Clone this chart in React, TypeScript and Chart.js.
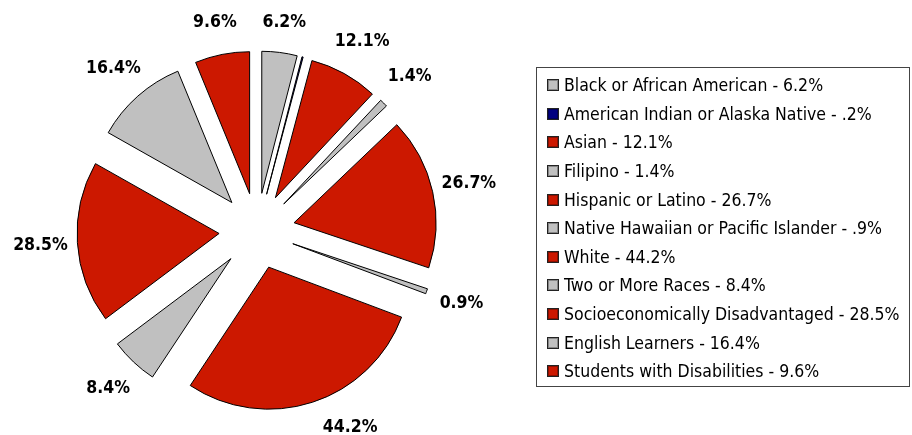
import React, { useEffect, useRef } from "react";
import { Chart, registerables } from "chart.js";

Chart.register(...registerables);

// ---- data ----
const categories: string[] = [
  "Black or African American",
  "American Indian or Alaska Native",
  "Asian",
  "Filipino",
  "Hispanic or Latino",
  "Native Hawaiian or Pacific Islander",
  "White",
  "Two or More Races",
  "Socioeconomically Disadvantaged",
  "English Learners",
  "Students with Disabilities",
];
const percents: number[] = [6.2, 0.2, 12.1, 1.4, 26.7, 0.9, 44.2, 8.4, 28.5, 16.4, 9.6];

// ---- styles ----
const GRAY = "#C0C0C0";
const RED = "#CC1800";
const NAVY = "#000080";
const sliceColors: string[] = [GRAY, NAVY, RED, GRAY, RED, GRAY, RED, GRAY, RED, GRAY, RED];

const EXPLODE = 38;
const RADIUS = 142;
const LABEL_GAP = 37;
const LABEL_MARGIN_TOP = 22;
const LABEL_MARGIN_BOTTOM = 8;
const MIN_LABEL_VALUE = 0.5;
const LABEL_FONT = 'bold 17.5px "DejaVu Sans Condensed", "DejaVu Sans", sans-serif';
const LEGEND_FONT = '17.5px "DejaVu Sans Condensed", "DejaVu Sans", sans-serif';

const sliceLabel = (v: number) => v.toFixed(1) + "%";
const legendValue = (v: number) => (v < 1 ? v.toFixed(1).replace(/^0/, "") : v.toFixed(1)) + "%";

const explodePlugin = {
  id: "explodedPie",
  beforeDatasetDraw(chart: any, args: any) {
    const ctx = chart.ctx;
    const meta = args.meta;
    meta.data.forEach((arc: any) => {
      const mid = (arc.startAngle + arc.endAngle) / 2;
      ctx.save();
      ctx.translate(Math.cos(mid) * EXPLODE, Math.sin(mid) * EXPLODE);
      arc.draw(ctx, chart.chartArea);
      ctx.restore();
    });
    return false;
  },
  afterDatasetsDraw(chart: any) {
    const ctx = chart.ctx;
    const meta = chart.getDatasetMeta(0);
    const values = chart.data.datasets[0].data as number[];
    const maxY = chart.height - LABEL_MARGIN_BOTTOM;
    ctx.save();
    ctx.font = LABEL_FONT;
    ctx.fillStyle = "#000";
    ctx.textAlign = "center";
    ctx.textBaseline = "middle";
    meta.data.forEach((arc: any, i: number) => {
      const v = values[i];
      if (v < MIN_LABEL_VALUE) return;
      const mid = (arc.startAngle + arc.endAngle) / 2;
      const d = arc.outerRadius + EXPLODE + LABEL_GAP;
      let x = arc.x + Math.cos(mid) * d;
      let y = arc.y + Math.sin(mid) * d;
      if (y > maxY) {
        // slide along the label circle until the label fits
        const dy = maxY - arc.y;
        const dx = Math.sqrt(Math.max(d * d - dy * dy, 0));
        x = arc.x + (Math.cos(mid) >= 0 ? dx : -dx);
        y = maxY;
      }
      if (y < LABEL_MARGIN_TOP) y = LABEL_MARGIN_TOP;
      ctx.fillText(sliceLabel(v), x, y);
    });
    ctx.restore();
  },
};

export default function App() {
  const canvasRef = useRef<HTMLCanvasElement | null>(null);

  useEffect(() => {
    if (!canvasRef.current) return;
    const chart = new Chart(canvasRef.current, {
      type: "pie",
      data: {
        labels: categories,
        datasets: [
          {
            data: percents,
            backgroundColor: sliceColors,
            borderColor: "#000",
            borderWidth: 1,
            borderJoinStyle: "miter",
            radius: RADIUS,
          } as any,
        ],
      },
      options: {
        responsive: false,
        animation: false,
        devicePixelRatio: 1,
        events: [],
        radius: RADIUS,
        rotation: 0,
        layout: { padding: { left: 0, right: 398, top: 27, bottom: 0 } },
        plugins: {
          legend: { display: false },
          tooltip: { enabled: false },
        },
      } as any,
      plugins: [explodePlugin],
    });
    return () => chart.destroy();
  }, []);

  return (
    <div style={{ position: "fixed", left: 0, top: 0, width: 912, height: 435, background: "#fff" }}>
      <canvas ref={canvasRef} width={912} height={435} style={{ position: "absolute", left: 0, top: 0 }} />
      <div
        style={{
          position: "absolute",
          left: 536,
          top: 67,
          width: 372,
          height: 315,
          border: "1px solid #444",
          boxSizing: "content-box",
          font: LEGEND_FONT,
          color: "#000",
          paddingTop: 3,
        }}
      >
        {categories.map((c, i) => (
          <div key={c} style={{ display: "flex", alignItems: "center", height: 28.6, whiteSpace: "nowrap" }}>
            <span
              style={{
                display: "inline-block",
                width: 10,
                height: 10,
                marginLeft: 10,
                marginRight: 5,
                background: sliceColors[i],
                border: "1px solid #222",
                boxShadow: "inset 0 0 0 1px rgba(0,0,0,0.3)",
                flex: "none",
              }}
            />
            <span>{c + " - " + legendValue(percents[i])}</span>
          </div>
        ))}
      </div>
    </div>
  );
}
